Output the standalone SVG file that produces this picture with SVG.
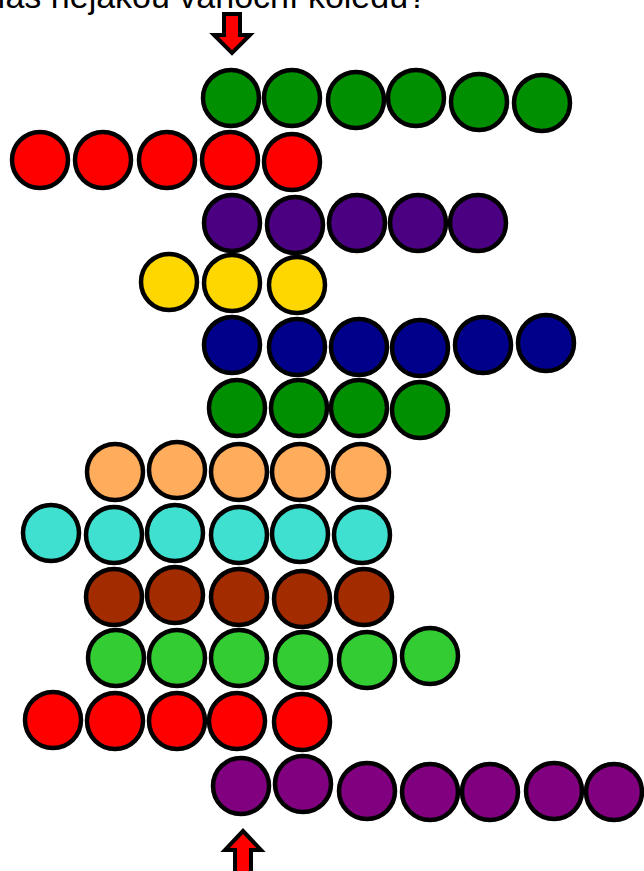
<svg xmlns="http://www.w3.org/2000/svg" width="644" height="871" viewBox="0 0 644 871">
<style>
circle{stroke:#000;stroke-width:4.5}
.g1{fill:#008f00}.r{fill:#ff0000}.in{fill:#4b0082}.y{fill:#ffd700}.nv{fill:#00008b}
.or{fill:#ffad5c}.tq{fill:#40e0d0}.br{fill:#a22b00}.lg{fill:#33cc33}.pu{fill:#800080}
.arrow{fill:#ff0000;stroke:#000;stroke-width:4;stroke-linejoin:miter}
text{font-family:"Liberation Sans",Arial,sans-serif;font-size:34px;fill:#000}
</style>
<rect width="644" height="871" fill="#fff"/>
<text x="427" y="7.5" text-anchor="end">Máš nějakou vánoční koledu?</text>
<g id="arrow-top"><polygon class="arrow" points="224,14 240,14 240,35 250,35 232,53 214,35 224,35"/></g>
<g id="arrow-bottom"><polygon class="arrow" points="243,831 261,850 251,850 251,876 235,876 235,850 225,850"/></g>
<g id="row1" class="g1">
<circle cx="231" cy="98" r="28"/><circle cx="292" cy="98" r="28"/><circle cx="356" cy="100" r="28"/><circle cx="416" cy="98" r="28"/><circle cx="479" cy="102" r="28"/><circle cx="542" cy="103" r="28"/>
</g>
<g id="row2" class="r">
<circle cx="40" cy="160" r="28"/><circle cx="103" cy="160" r="28"/><circle cx="167" cy="160" r="28"/><circle cx="230" cy="160" r="28"/><circle cx="292" cy="162" r="28"/>
</g>
<g id="row3" class="in">
<circle cx="232" cy="223" r="28"/><circle cx="295" cy="225" r="28"/><circle cx="357" cy="223" r="28"/><circle cx="418" cy="223" r="28"/><circle cx="478" cy="223" r="28"/>
</g>
<g id="row4" class="y">
<circle cx="169" cy="282" r="28"/><circle cx="232" cy="283" r="28"/><circle cx="297" cy="285" r="28"/>
</g>
<g id="row5" class="nv">
<circle cx="232" cy="345" r="28"/><circle cx="297" cy="347" r="28"/><circle cx="359" cy="347" r="28"/><circle cx="420" cy="348" r="28"/><circle cx="483" cy="345" r="28"/><circle cx="546" cy="343" r="28"/>
</g>
<g id="row6" class="g1">
<circle cx="237" cy="408" r="28"/><circle cx="299" cy="408" r="28"/><circle cx="359" cy="408" r="28"/><circle cx="420" cy="410" r="28"/>
</g>
<g id="row7" class="or">
<circle cx="115" cy="472" r="28"/><circle cx="177" cy="470" r="28"/><circle cx="239" cy="472" r="28"/><circle cx="300" cy="472" r="28"/><circle cx="361" cy="472" r="28"/>
</g>
<g id="row8" class="tq">
<circle cx="51" cy="533" r="28"/><circle cx="114" cy="535" r="28"/><circle cx="175" cy="533" r="28"/><circle cx="239" cy="535" r="28"/><circle cx="300" cy="534" r="28"/><circle cx="362" cy="535" r="28"/>
</g>
<g id="row9" class="br">
<circle cx="114" cy="597" r="28"/><circle cx="175" cy="595" r="28"/><circle cx="239" cy="597" r="28"/><circle cx="302" cy="599" r="28"/><circle cx="364" cy="597" r="28"/>
</g>
<g id="row10" class="lg">
<circle cx="116" cy="658" r="28"/><circle cx="177" cy="658" r="28"/><circle cx="239" cy="658" r="28"/><circle cx="303" cy="660" r="28"/><circle cx="367" cy="660" r="28"/><circle cx="430" cy="656" r="28"/>
</g>
<g id="row11" class="r">
<circle cx="53" cy="720" r="28"/><circle cx="115" cy="721" r="28"/><circle cx="177" cy="721" r="28"/><circle cx="237" cy="721" r="28"/><circle cx="302" cy="722" r="28"/>
</g>
<g id="row12" class="pu">
<circle cx="241" cy="786" r="28"/><circle cx="303" cy="784" r="28"/><circle cx="367" cy="791" r="28"/><circle cx="430" cy="792" r="28"/><circle cx="490" cy="792" r="28"/><circle cx="554" cy="791" r="28"/><circle cx="614" cy="792" r="28"/>
</g>
</svg>
